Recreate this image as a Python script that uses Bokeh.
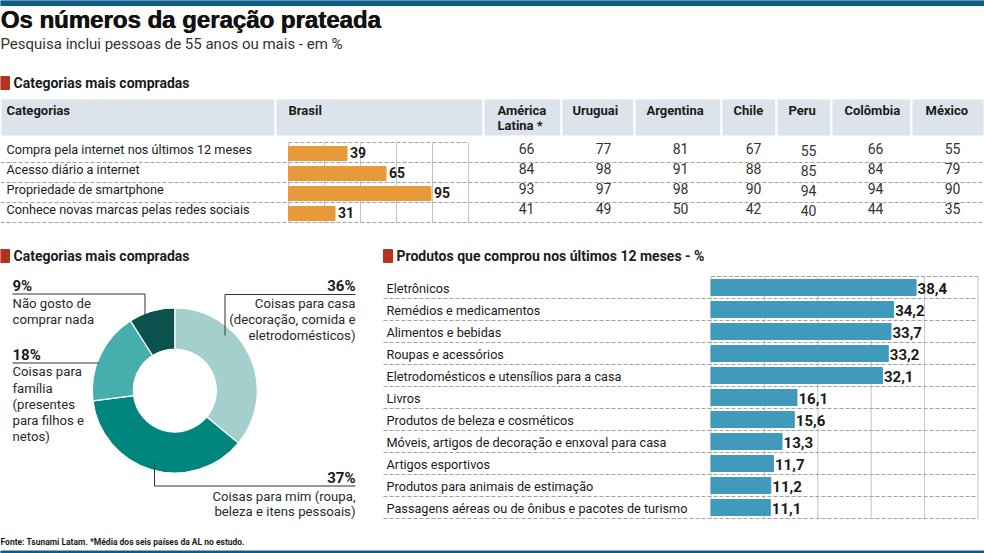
from bokeh.plotting import figure
from bokeh.models import Range1d, ColumnDataSource
from bokeh.embed import file_html
from bokeh.resources import INLINE
from bokeh.core.properties import value
import numpy as np

W, H = 984, 553

# ---------------- data ----------------
title = "Os números da geração prateada"
subtitle = "Pesquisa inclui pessoas de 55 anos ou mais - em %"
section_table = "Categorias mais compradas"
section_donut = "Categorias mais compradas"
section_products = "Produtos que comprou nos últimos 12 meses - %"
source_note = "Fonte: Tsunami Latam. *Média dos seis países da AL no estudo."

table_columns = ["Categorias", "Brasil", "América", "Uruguai", "Argentina",
                 "Chile", "Peru", "Colômbia", "México"]
table_rows = ["Compra pela internet nos últimos 12 meses",
              "Acesso diário a internet",
              "Propriedade de smartphone",
              "Conhece novas marcas pelas redes sociais"]
brasil = [39, 65, 95, 31]
america_latina = [66, 84, 93, 41]
uruguai = [77, 98, 97, 49]
argentina = [81, 91, 98, 50]
chile = [67, 88, 90, 42]
peru = [55, 85, 94, 40]
colombia = [66, 84, 94, 44]
mexico = [55, 79, 90, 35]

donut_pct = [36, 37, 18, 9]
donut_pct_labels = ["36%", "37%", "18%", "9%"]
donut_text = [
    ["Coisas para casa", "(decoração, comida e", "eletrodomésticos)"],
    ["Coisas para mim (roupa,", "beleza e itens pessoais)"],
    ["Coisas para", "família", "(presentes", "para filhos e", "netos)"],
    ["Não gosto de", "comprar nada"],
]

products = ["Eletrônicos", "Remédios e medicamentos", "Alimentos e bebidas",
            "Roupas e acessórios", "Eletrodomésticos e utensílios para a casa",
            "Livros", "Produtos de beleza e cosméticos",
            "Móveis, artigos de decoração e enxoval para casa",
            "Artigos esportivos", "Produtos para animais de estimação",
            "Passagens aéreas ou de ônibus e pacotes de turismo"]
product_pct = [38.4, 34.2, 33.7, 33.2, 32.1, 16.1, 15.6, 13.3, 11.7, 11.2, 11.1]

# ---------------- style ----------------
BODY = "Roboto"
TITLE_FONT = "Liberation Sans"
BODY_SIZE = 12.7
INK = "#1b1b1b"
BAND = "#0f5c86"
RED = "#b5321e"
HEAD_BG = "#dce3ea"
ORANGE = "#e8993a"
BLUE = "#3f9abb"
DONUT_COLORS = ["#a4cfcd", "#00867e", "#46aeac", "#0b514d"]
DASH = "#a3a3a3"
GRID = "#c4c4c4"

p = figure(width=W, height=H, x_range=Range1d(0, W), y_range=Range1d(H, 0),
           output_backend="svg", toolbar_location=None, min_border=0,
           x_axis_location=None, y_axis_location=None,
           outline_line_color=None, background_fill_color="white")
p.grid.visible = False

# value scales for the two bar charts (px per unit and zero position)
BR_X0, BR_PX = 288.0, 1.5
PR_X0, PR_PX = 710.5, 5.34
p.extra_x_ranges["brasil"] = Range1d(-BR_X0 / BR_PX, (W - BR_X0) / BR_PX)
p.extra_x_ranges["produtos"] = Range1d(-PR_X0 / PR_PX, (W - PR_X0) / PR_PX)


def txt(xs, ys, texts, size, bold=False, align="left", color=INK, font=BODY,
        rng="default", x_offset=0):
    """Text placed by its baseline (y given as the baseline position)."""
    src = ColumnDataSource(dict(x=list(xs), y=[v - 0.4 * size for v in ys], t=list(texts)))
    p.text(x="x", y="y", text="t", source=src, text_font=value(font),
           text_font_size=f"{size}px", text_font_style="bold" if bold else "normal",
           text_align=align, text_baseline="alphabetic", text_color=color,
           x_range_name=rng, x_offset=x_offset)


# top and bottom bands
p.quad(left=[0, 0], right=[W, W], top=[0, 550.5], bottom=[5, H], color=BAND)

# title block (drawn twice, slightly shifted, for a heavier weight)
txt([0, 0.7], [29, 29], [title, title], 24, bold=True, font=TITLE_FONT, color="#111111")
txt([0], [49], [subtitle], 15, color="#333333")

# section markers
p.quad(left=[0, 0, 383], right=[9, 9, 392], top=[76, 249, 249], bottom=[89, 262, 262], color=RED)
txt([13, 13, 396], [88, 261.5, 261.5], [section_table, section_donut, section_products], 14, bold=True)

# ---------------- table ----------------
col_edges = [0, 275, 483, 561, 634, 721, 776, 831, 911, W]
head_x = [6, 288, 497, 572, 646, 733, 788, 844, 925]
p.quad(left=col_edges[:-1], right=col_edges[1:], top=98, bottom=136,
       fill_color=HEAD_BG, line_color="white", line_width=2)
txt(head_x, [115] * len(head_x), table_columns, 13, bold=True)
txt([head_x[2]], [130], ["Latina *"], 13, bold=True)

row_top = 142.0
row_h = 20.0
n_rows = len(table_rows)
row_idx = np.arange(n_rows)
row_bottom = row_top + row_h * (row_idx + 1)
row_mid = row_top + row_h * (row_idx + 0.5)

# Brasil grid (every 24 points) and row separators
br_ticks = [0, 24, 48, 72, 96, 120]
p.segment(x0=br_ticks, x1=br_ticks, y0=row_top, y1=row_bottom[-1],
          line_color=GRID, line_width=1, x_range_name="brasil")
p.segment(x0=[0], x1=[120], y0=[row_top], y1=[row_top], line_color=DASH,
          line_dash="4 2", line_width=1, x_range_name="brasil")
p.segment(x0=0, x1=W, y0=row_bottom, y1=row_bottom, line_color=DASH,
          line_dash="4 2", line_width=1)

p.hbar(y=row_mid + 1, left=0, right=brasil, height=14, color=ORANGE,
       x_range_name="brasil")
txt(brasil, row_bottom - 4, [str(v) for v in brasil], 14, bold=True,
    rng="brasil", x_offset=3)

txt([6] * n_rows, row_bottom - 7.5, table_rows, BODY_SIZE)

value_cols = [america_latina, uruguai, argentina, chile, peru, colombia, mexico]
value_x = [526, 603, 680, 753, 808, 875, 952]
for cx, vals, drop in zip(value_x, value_cols, [0, 0, 0, 0, 2, 0, 0]):
    txt([cx] * n_rows, row_bottom - 8 + drop, [str(v) for v in vals], 14,
        align="center", color="#333333")

# ---------------- donut ----------------
CX, CY, R_OUT, R_IN = 174.3, 390.0, 82.5, 41.5
frac = np.array(donut_pct, dtype=float) / sum(donut_pct)
cum = np.concatenate([[0.0], np.cumsum(frac)])
start = np.pi / 2 - 2 * np.pi * cum[:-1]
end = np.pi / 2 - 2 * np.pi * cum[1:]
p.annular_wedge(x=CX, y=CY, inner_radius=R_IN, outer_radius=R_OUT,
                start_angle=start, end_angle=end, direction="clock",
                fill_color=DONUT_COLORS, line_color="white", line_width=1.2)

LEAD = "#333333"
# leader lines: 36%, 37%, 18%, 9%
p.multi_line(xs=[[224.5, 224.5, 355], [154, 154, 355], [12, 98.5], [12, 144.5, 144.5]],
             ys=[[335, 294, 294], [462, 485.5, 485.5], [362.5, 362.5], [293.5, 293.5, 316]],
             line_color=LEAD, line_width=1)

txt([355], [291.5], [donut_pct_labels[0]], 15, bold=True, align="right")
txt([355] * 3, [308, 324, 340], donut_text[0], BODY_SIZE + 0.5, align="right", color="#2a2a2a")
txt([355], [483], [donut_pct_labels[1]], 15, bold=True, align="right")
txt([355] * 2, [501, 516], donut_text[1], BODY_SIZE + 0.5, align="right", color="#2a2a2a")
txt([12], [360.5], [donut_pct_labels[2]], 15, bold=True)
txt([12] * 5, [376.5 + 16.3 * k for k in range(5)], donut_text[2], BODY_SIZE + 0.5, color="#2a2a2a")
txt([12], [291], [donut_pct_labels[3]], 15, bold=True)
txt([12] * 2, [308.5, 324], donut_text[3], BODY_SIZE + 0.5, color="#2a2a2a")

# ---------------- products ----------------
pr_top = 276.0
pr_h = 22.0
n_pr = len(products)
pr_idx = np.arange(n_pr)
pr_bottom = pr_top + pr_h * (pr_idx + 1)
pr_mid = pr_top + pr_h * (pr_idx + 0.5)

pr_ticks = [0, 10, 20, 30, 40, 50]
p.segment(x0=pr_ticks, x1=pr_ticks, y0=pr_top, y1=pr_bottom[-1],
          line_color=GRID, line_width=1, x_range_name="produtos")
p.segment(x0=[0], x1=[50], y0=[pr_top], y1=[pr_top], line_color=DASH,
          line_dash="4 2", line_width=1, x_range_name="produtos")
p.segment(x0=383, x1=977.5, y0=pr_bottom, y1=pr_bottom, line_color=DASH,
          line_dash="4 2", line_width=1)

p.hbar(y=pr_mid, left=0, right=product_pct, height=16, color=BLUE,
       x_range_name="produtos")
txt(product_pct, pr_bottom - 4.5, [f"{v:.1f}".replace(".", ",") for v in product_pct],
    15, bold=True, rng="produtos", x_offset=1.5)
txt([386] * n_pr, pr_bottom - 5, products, BODY_SIZE)

# source line
txt([0], [545], [source_note], 8.5, bold=True)

open("out.html", "w").write(file_html(p, INLINE))
